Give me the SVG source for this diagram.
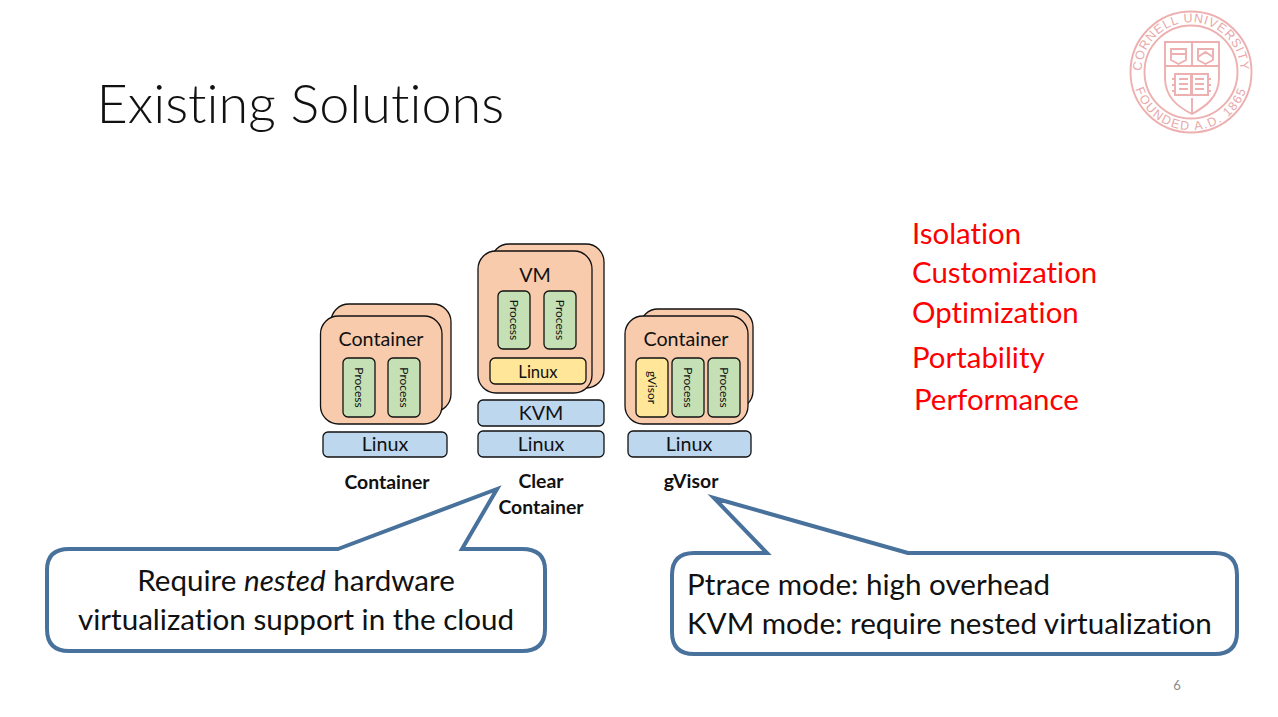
<svg xmlns="http://www.w3.org/2000/svg" width="1278" height="717" viewBox="0 0 1278 717">
<style>
text{font-family:Lato,"Open Sans","Noto Sans",sans-serif;fill:#111;font-variant-ligatures:none}
.o{fill:#f8cbad;stroke:#111;stroke-width:1.3}
.p{fill:#c5e0b4;stroke:#111;stroke-width:1.3}
.y{fill:#ffe699;stroke:#111;stroke-width:1.3}
.b{fill:#bdd7ee;stroke:#111;stroke-width:1.3}
.t{font-size:19.7px;text-anchor:middle}
.pt{font-size:12px;text-anchor:middle}
.l{font-size:19.4px;font-weight:700;text-anchor:middle}
.r{font-size:29.4px}
.r text{fill:#f00}
.c{font-size:29.6px}
.call{fill:#fff;stroke:#48719b;stroke-width:4;stroke-linejoin:miter}
.lg{fill:none;stroke:#edb0b0;stroke-width:1.9}
.lt{fill:#e9a8a8;font-family:"Liberation Sans",sans-serif;font-size:12.5px}
</style>
<defs>
<path id="arcTop" d="M1142.300 80.600A49.500 49.500 0 1 1 1239.700 80.600"/>
<path id="arcBot" d="M1133.900 62A58 58 0 1 0 1248.100 62"/>
</defs>
<rect width="1278" height="717" fill="#fff"/>
<text x="96.500" y="123" font-size="54" font-weight="300" id="title">Existing Solutions</text>

<g id="logo">
<circle class="lg" cx="1191" cy="72" r="60.5"/>
<circle class="lg" cx="1191" cy="72" r="46.500"/>
<path class="lg" d="M1165 42H1219V78C1219 97 1205 107 1192 114C1178 107 1165 97 1165 78Z"/>
<path class="lg" d="M1165 66H1219M1192 42V66M1192 98V114"/>
<path class="lg" d="M1171 49H1186V60L1178.500 64L1171 60ZM1198 49H1213V60L1205.500 64L1198 60ZM1171 54H1186M1198 57L1205.500 52L1213 57"/>
<path class="lg" d="M1175 74H1191V95H1175ZM1192 74H1208V95H1192ZM1179 79H1188M1179 84H1188M1179 89H1188M1195 79H1204M1195 84H1204M1195 89H1204M1172 79H1175M1172 85H1175M1172 91H1175M1208 79H1211M1208 85H1211M1208 91H1211"/>
<text class="lt" letter-spacing="0.9"><textPath href="#arcTop" startOffset="50%" text-anchor="middle">CORNELL UNIVERSITY</textPath></text>
<text class="lt" letter-spacing="1.6"><textPath href="#arcBot" startOffset="50%" text-anchor="middle">FOUNDED A.D. 1865</textPath></text>
</g>

<g id="container-stack">
<rect class="o" x="331" y="304" width="120" height="108" rx="18"/>
<rect class="o" x="320.500" y="316" width="121.500" height="108" rx="18"/>
<text class="t" x="381" y="346">Container</text>
<rect class="p" x="343" y="358" width="32" height="59" rx="5"/>
<text class="pt" transform="translate(355 387.500) rotate(90)">Process</text>
<rect class="p" x="388" y="358" width="32" height="59" rx="5"/>
<text class="pt" transform="translate(400 387.500) rotate(90)">Process</text>
<rect class="b" x="323" y="432" width="124" height="25" rx="5"/>
<text class="t" x="385" y="451">Linux</text>
<text class="l" x="387" y="489">Container</text>
</g>

<g id="clear-container-stack">
<rect class="o" x="491" y="244" width="113" height="144" rx="18"/>
<rect class="o" x="478" y="251" width="114" height="142" rx="18"/>
<text class="t" x="535" y="282">VM</text>
<rect class="p" x="498" y="291" width="32" height="58" rx="5"/>
<text class="pt" transform="translate(510 320) rotate(90)">Process</text>
<rect class="p" x="544" y="291" width="32" height="58" rx="5"/>
<text class="pt" transform="translate(556 320) rotate(90)">Process</text>
<rect class="y" x="490" y="358" width="96" height="26" rx="5"/>
<text class="pt" x="538" y="378" style="font-size:16.6px">Linux</text>
<rect class="b" x="478" y="400" width="126" height="26" rx="5"/>
<text class="t" x="541" y="420">KVM</text>
<rect class="b" x="478" y="431" width="126" height="26" rx="5"/>
<text class="t" x="541" y="451">Linux</text>
<text class="l" x="541" y="488">Clear</text>
<text class="l" x="541" y="514">Container</text>
</g>

<g id="gvisor-stack">
<rect class="o" x="640" y="309" width="113" height="100" rx="18"/>
<rect class="o" x="625" y="316" width="123" height="108" rx="18"/>
<text class="t" x="686" y="346">Container</text>
<rect class="y" x="636" y="358" width="32" height="59" rx="5"/>
<text class="pt" transform="translate(648 387.500) rotate(90)">gVisor</text>
<rect class="p" x="672" y="358" width="32" height="59" rx="5"/>
<text class="pt" transform="translate(684 387.500) rotate(90)">Process</text>
<rect class="p" x="708" y="358" width="32" height="59" rx="5"/>
<text class="pt" transform="translate(720 387.500) rotate(90)">Process</text>
<rect class="b" x="628" y="431" width="123" height="26" rx="5"/>
<text class="t" x="689" y="451">Linux</text>
<text class="l" x="691" y="488">gVisor</text>
</g>

<g id="properties" class="r">
<text x="912" y="244">Isolation</text>
<text x="912" y="283">Customization</text>
<text x="912" y="323">Optimization</text>
<text x="912" y="368">Portability</text>
<text x="914" y="410">Performance</text>
</g>

<g id="callout-clear">
<path class="call" d="M338 549L497 489L462 549H522Q545 549 545 570V629Q545 651 522 651H69Q47 651 47 629V570Q47 549 69 549Z"/>
<text class="c" x="296" y="591" text-anchor="middle">Require <tspan font-style="italic">nested</tspan> hardware</text>
<text class="c" x="296" y="630" text-anchor="middle">virtualization support in the cloud</text>
</g>

<g id="callout-gvisor">
<path class="call" d="M908 553L714 498L767 553H694Q672 553 672 575V632Q672 654 694 654H1215Q1237 654 1237 632V575Q1237 553 1215 553Z"/>
<text class="c" x="687" y="595">Ptrace mode: high overhead</text>
<text class="c" x="687" y="634">KVM mode: require nested virtualization</text>
</g>
<text x="1177" y="690" font-size="13" text-anchor="middle" style="fill:#8a8a8a" id="page">6</text>
</svg>
